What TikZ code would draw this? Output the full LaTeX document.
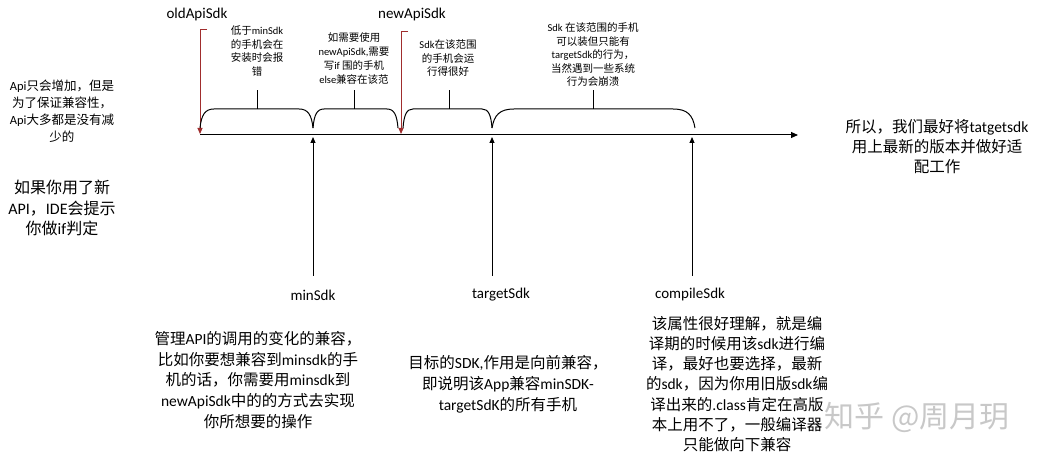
\documentclass[tikz,border=0pt]{standalone}
\usepackage{fontspec}
\setmainfont{Carlito}
\newfontfamily\cjk{Noto Sans CJK SC}
\newcommand\zh[1]{{\cjk #1}}
\usetikzlibrary{arrows.meta}
\definecolor{axred}{RGB}{160,45,45}
\definecolor{wm}{RGB}{200,200,200}
\tikzset{
  lbl/.style={font=\fontsize{15}{18}\selectfont, inner sep=0pt},
  note/.style={font=\fontsize{10.5}{13.5}\selectfont, align=center, inner sep=0pt},
  side/.style={font=\fontsize{12.5}{17}\selectfont, align=center, inner sep=0pt},
  big/.style={font=\fontsize{15.5}{20.8}\selectfont, align=center, inner sep=0pt},
  ln/.style={line width=1pt},
  redarr/.style={ln, draw=axred, -{Triangle[length=6pt,width=5pt]}},
  uparr/.style={ln, -{Triangle[length=6pt,width=5pt]}},
  brc/.style={ln}
}
\newcommand\mybrace[4]{% xa xm xb curve-width
  \draw[brc] (#1,128) .. controls (#1+0.1*#4,115) and (#1+0.35*#4,109) .. (#1+#4,109)
     -- (#3-#4,109) .. controls (#3-0.35*#4,109) and (#3-0.1*#4,115) .. (#3,128);
  \draw[brc] (#2,109) -- (#2,90);}
\begin{document}
\begin{tikzpicture}[x=1pt,y=-1pt]
\useasboundingbox (0,0) rectangle (1041,462);
% watermark
\node[inner sep=0pt, text=wm, font=\cjk\fontsize{30}{34}\selectfont] (wmark) at (917,417) {知乎 @周月玥};
% axis
\coordinate (axS) at (200,135);
\coordinate (axE) at (798,135);
\draw[ln, -{Triangle[length=7pt,width=6pt]}] (axS) -- (axE);
% top labels
\node[lbl] (old) at (197,15) {oldApiSdk};
\node[lbl] (new) at (412,15) {newApiSdk};
\coordinate (oldT) at (207,30);
\coordinate (oldB) at (200,134);
\coordinate (newT) at (408,32);
\coordinate (newB) at (401,134);
\draw[redarr] (oldT) -- (oldT -| oldB) -- (oldB);
\draw[redarr] (newT) -- (newT -| newB) -- (newB);
% braces
\mybrace{200}{257}{313}{14}
\mybrace{313}{354}{398}{11}
\mybrace{403}{449}{492}{10}
\mybrace{492}{593}{695}{22}
% brace notes
\node[note] (n1) at (257,51) {\zh{低于}minSdk\\\zh{的手机会在}\\\zh{安装时会报}\\\zh{错}};
\node[note, font=\fontsize{10.5}{14.3}\selectfont] (n2) at (354,58.5) {\zh{如需要使用}\\newApiSdk,\zh{需要}\\\zh{写}if \zh{围的手机}\\else\zh{兼容在该范}};
\node[note] (n3) at (448,58.5) {Sdk\zh{在该范围}\\\zh{的手机会运}\\\zh{行得很好}};
\node[note] (n4) at (593,55) {Sdk \zh{在该范围的手机}\\\zh{可以装但只能有}\\targetSdk\zh{的行为，}\\\zh{当然遇到一些系统}\\\zh{行为会崩溃}};
% bottom labels and arrows
\node[lbl] (min) at (313,295) {minSdk};
\node[lbl] (tgt) at (501,295) {targetSdk};
\node[lbl] (cmp) at (690,295) {compileSdk};
\coordinate (minB) at (313,276);
\coordinate (minT) at (313,137);
\coordinate (tgtB) at (492,276);
\coordinate (tgtT) at (492,137);
\coordinate (cmpB) at (692,276);
\coordinate (cmpT) at (692,137);
\draw[uparr] (minB) -- (minT);
\draw[uparr] (tgtB) -- (tgtT);
\draw[uparr] (cmpB) -- (cmpT);
% left texts
\node[side] (l1) at (62,111) {Api\zh{只会增加，但是}\\\zh{为了保证兼容性，}\\Api\zh{大多都是没有减}\\\zh{少的}};
\node[side, font=\fontsize{16}{20.5}\selectfont] (l2) at (62,208) {\zh{如果你用了新}\\API\zh{，}IDE\zh{会提示}\\\zh{你做}if\zh{判定}};
% right text
\node[big, font=\fontsize{15.5}{20}\selectfont] (r1) at (937,147) {\zh{所以，我们最好将}tatgetsdk\\\zh{用上最新的版本并做好适}\\\zh{配工作}};
% bottom texts
\node[big] (b1) at (258,380) {\zh{管理}API\zh{的调用的变化的兼容，}\\\zh{比如你要想兼容到}minsdk\zh{的手}\\\zh{机的话，你需要用}minsdk\zh{到}\\newApiSdk\zh{中的的方式去实现}\\\zh{你所想要的操作}};
\node[big] (b2) at (508,384) {\zh{目标的}SDK,\zh{作用是向前兼容，}\\\zh{即说明该}App\zh{兼容}minSDK-\\targetSdK\zh{的所有手机}};
\node[big, font=\fontsize{15.5}{20.3}\selectfont] (b3) at (737,384) {\zh{该属性很好理解，就是编}\\\zh{译期的时候用该}sdk\zh{进行编}\\\zh{译，最好也要选择，最新}\\\zh{的}sdk\zh{，因为你用旧版}sdk\zh{编}\\\zh{译出来的}.class\zh{肯定在高版}\\\zh{本上用不了，一般编译器}\\\zh{只能做向下兼容}};
\end{tikzpicture}
\end{document}
